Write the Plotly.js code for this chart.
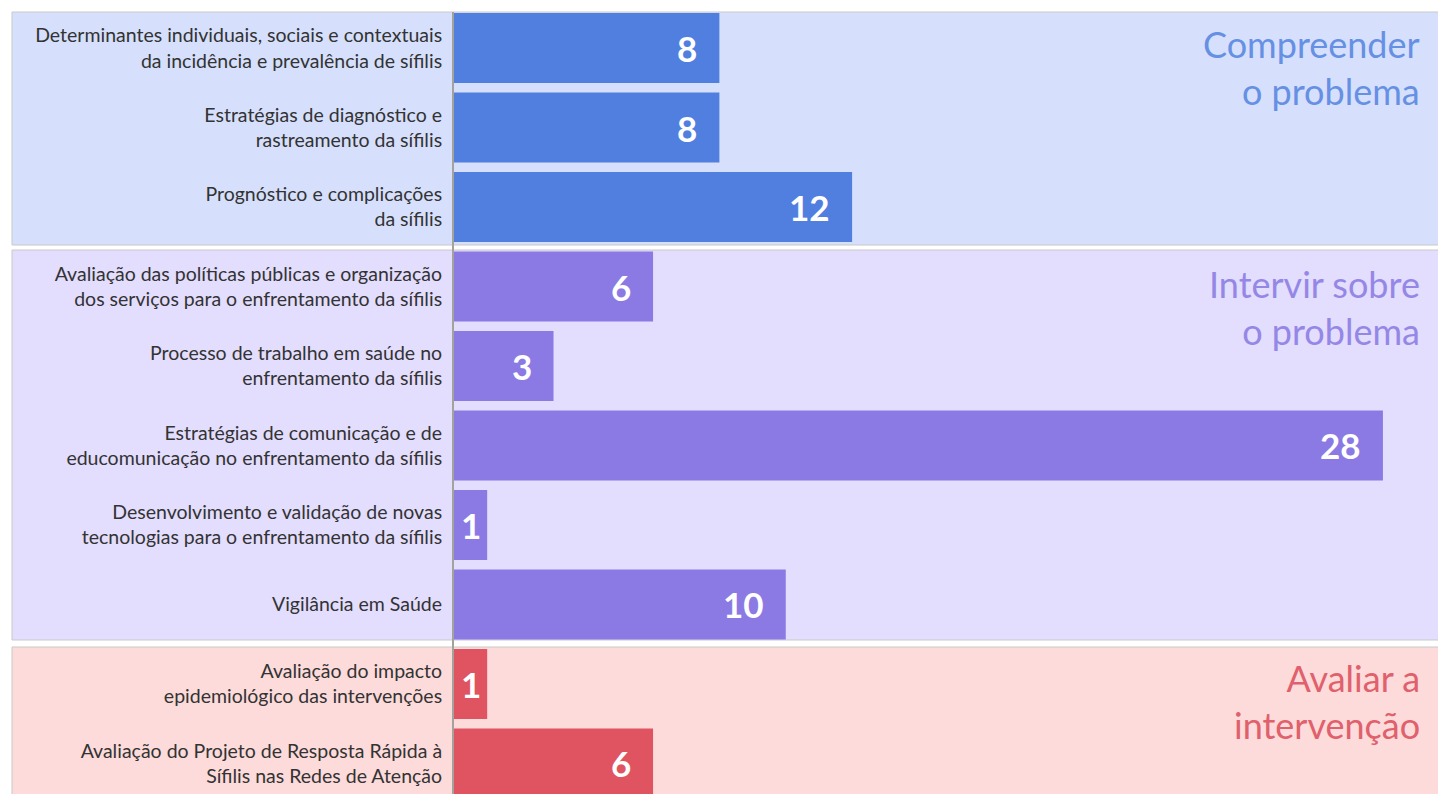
<!DOCTYPE html>
<html>
<head>
<meta charset="utf-8">
<script src="https://cdn.plot.ly/plotly-3.0.1.min.js"></script>
<style>html,body{margin:0;padding:0;background:#fff;}#chart{width:1438px;height:794px;}</style>
</head>
<body>
<div id="chart"></div>
<script>
const categories = [
  "Determinantes individuais, sociais e contextuais<br>da incidência e prevalência de sífilis",
  "Estratégias de diagnóstico e<br>rastreamento da sífilis",
  "Prognóstico e complicações<br>da sífilis",
  "Avaliação das políticas públicas e organização<br>dos serviços para o enfrentamento da sífilis",
  "Processo de trabalho em saúde no<br>enfrentamento da sífilis",
  "Estratégias de comunicação e de<br>educomunicação no enfrentamento da sífilis",
  "Desenvolvimento e validação de novas<br>tecnologias para o enfrentamento da sífilis",
  "Vigilância em Saúde",
  "Avaliação do impacto<br>epidemiológico das intervenções",
  "Avaliação do Projeto de Resposta Rápida à<br>Sífilis nas Redes de Atenção"
];
const values = [8, 8, 12, 6, 3, 28, 1, 10, 1, 6];
const groups = [0, 0, 0, 1, 1, 1, 1, 1, 2, 2];
const groupTitles = ["Compreender<br>o problema", "Intervir sobre<br>o problema", "Avaliar a<br>intervenção"];

const barColors = ["#517FE0", "#8B7AE3", "#E05462"];
const bgColors = ["#D6E0FC", "#E3DDFE", "#FDDBDB"];
const titleColors = ["#6690E4", "#9587E6", "#E0606C"];

const W = 1438, H = 794, T = 12, L = 454;
const plotH = H - T;
const py = p => (H - p) / plotH; // pixel -> paper y

const bands = [[12, 245], [250, 640], [647, 830]];
const titleMid = [67, 308, 701];

const shapes = bands.map((b, i) => ({
  type: "rect", xref: "paper", yref: "paper", layer: "below",
  x0: (12 - L) / (W - L), x1: 1.02, y0: py(b[1]), y1: py(b[0]),
  fillcolor: bgColors[i], line: {color: "#C9C9C9", width: 1}
}));

const annotations = [];
groupTitles.forEach((t, i) => {
  annotations.push({
    xref: "paper", yref: "paper", x: 1, y: py(titleMid[i]),
    xanchor: "right", yanchor: "middle", xshift: -16, align: "right",
    text: t, showarrow: false,
    font: {family: "Lato, 'Open Sans', sans-serif", size: 36, color: titleColors[i]}
  });
});
values.forEach((v, i) => {
  const small = v < 2;
  annotations.push({
    xref: "x", yref: "y", x: small ? v / 2 : v, y: categories[i],
    xanchor: small ? "center" : "right", yanchor: "middle",
    xshift: small ? 0 : -20, text: String(v), showarrow: false,
    font: {family: "Lato, 'Open Sans', sans-serif", size: 35, color: "#FFFFFF", weight: "bold"}
  });
});

const trace = {
  type: "bar", orientation: "h",
  x: values, y: categories,
  width: 0.88,
  marker: {color: groups.map(g => barColors[g]), line: {width: 0}},
  hoverinfo: "x+y"
};

const layout = {
  width: W, height: H,
  margin: {l: L, r: 0, t: T, b: 0, pad: 0},
  paper_bgcolor: "#FFFFFF",
  plot_bgcolor: "rgba(0,0,0,0)",
  showlegend: false,
  bargap: 0.12,
  xaxis: {range: [0, 29.66], visible: false, fixedrange: true},
  yaxis: {
    type: "category", autorange: false, range: [9.384, -0.453],
    showgrid: false, zeroline: false,
    showline: true, linecolor: "#A3A39C", linewidth: 2,
    ticks: "", ticklabelstandoff: 6,
    tickfont: {family: "Lato, 'Open Sans', sans-serif", size: 19.5, color: "#333333"}
  },
  shapes: shapes,
  annotations: annotations
};

Plotly.newPlot("chart", [trace], layout, {displayModeBar: false, staticPlot: true});
</script>
</body>
</html>
